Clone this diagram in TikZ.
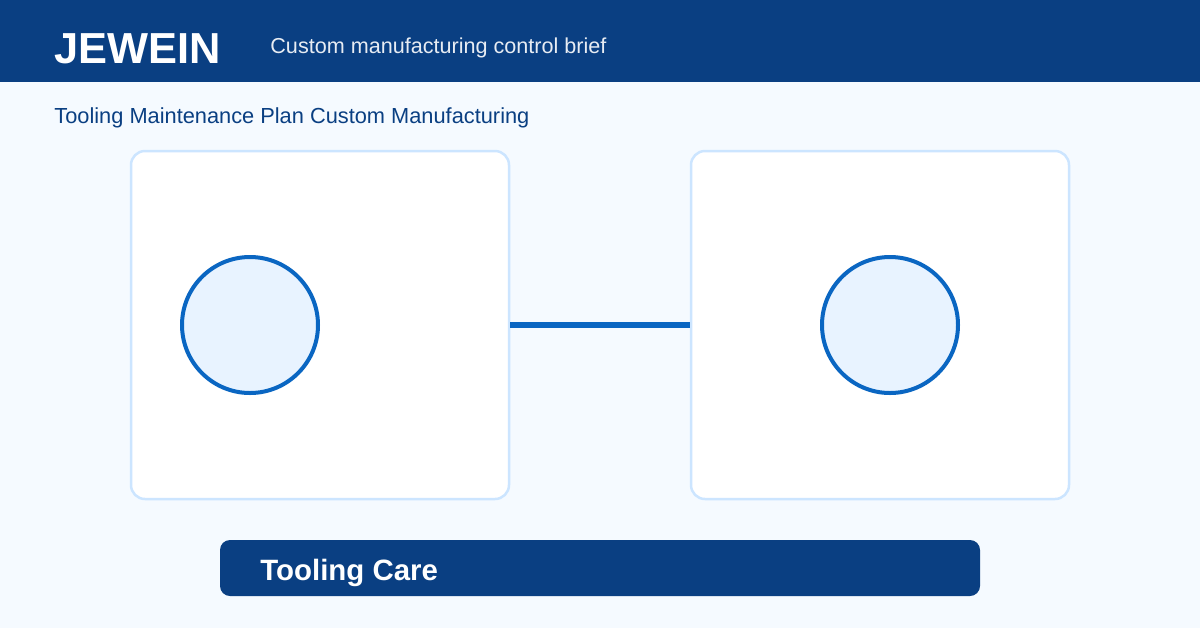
\documentclass[tikz,border=0pt]{standalone}
\usepackage{fontspec}
\setmainfont{Liberation Sans}
\usetikzlibrary{positioning}
\definecolor{navy}{HTML}{0A3F82}
\definecolor{pagebg}{HTML}{F5FAFF}
\definecolor{edge}{HTML}{CCE5FF}
\definecolor{link}{HTML}{0A66C2}
\definecolor{dotfill}{HTML}{E8F3FF}
\tikzset{
  panel/.style={draw=edge, line width=1.25pt, fill=white, rounded corners=7pt, minimum width=189pt, minimum height=174pt, inner sep=0pt},
  hub/.style={circle, draw=link, line width=2pt, fill=dotfill, minimum size=68pt, inner sep=0pt},
  wire/.style={draw=link, line width=3pt},
  band/.style={fill=navy, rounded corners=5pt, minimum width=380pt, minimum height=28pt, inner sep=0pt},
  txt/.style={anchor=west, inner sep=0pt}
}
\begin{document}
\begin{tikzpicture}[x=0.5pt, y=-0.5pt]
\fill[pagebg] (0,0) rectangle (1200,628);
\fill[navy] (0,0) rectangle (1200,82);
\node[txt, text=white, font=\fontsize{21.7}{24}\selectfont\bfseries] (brand) at (54,49) {JEWEIN};
\node[txt, text=white!90!navy, font=\fontsize{10.8}{12}\selectfont] (tagline) at (270,47.5) {Custom manufacturing control brief};
\node[txt, text=navy, font=\fontsize{10.9}{12}\selectfont] (heading) at (54,117.5) {Tooling Maintenance Plan Custom Manufacturing};
\node[panel] (left) at (320,325) {};
\node[panel] (right) at (880,325) {};
\node[hub] (lhub) at (250,325) {};
\node[hub] (rhub) at (890,325) {};
\draw[wire] (left.east) -- (right.west);
\node[band] (bar) at (600,568) {};
\node[txt, text=white, font=\fontsize{14.7}{17}\selectfont\bfseries] (care) at (260,573) {Tooling Care};
\end{tikzpicture}
\end{document}
